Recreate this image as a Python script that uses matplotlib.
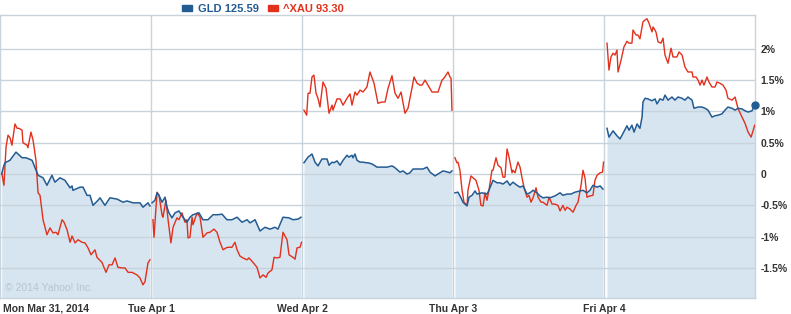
import numpy as np
import matplotlib
matplotlib.use("Agg")
import matplotlib.pyplot as plt
import matplotlib.transforms as mtrans
from matplotlib.patches import Patch

plt.rcParams["font.family"] = ["Liberation Sans", "DejaVu Sans"]

# time axis: trading days since Mon open (1.0 = one session)
days = ["Mon Mar 31, 2014", "Tue Apr 1", "Wed Apr 2", "Thu Apr 3", "Fri Apr 4"]
yticks = [-1.5, -1, -0.5, 0, 0.5, 1, 1.5, 2]
ytick_labels = ["-1.5%", "-1%", "-0.5%", "0", "0.5%", "1%", "1.5%", "2%"]

gld_t = [0.011, 0.026, 0.033, 0.066, 0.106, 0.146, 0.172, 0.212, 0.219, 0.252, 0.285, 0.311,
         0.344, 0.364, 0.397, 0.430, 0.464, 0.477, 0.483, 0.530, 0.550, 0.576, 0.596, 0.616,
         0.649, 0.662, 0.695, 0.728, 0.775, 0.815, 0.841, 0.881, 0.927, 0.947, 0.980, 0.993,
         1.007, 1.026, 1.040, 1.053, 1.073, 1.093, 1.106, 1.119, 1.139, 1.159, 1.185, 1.212,
         1.238, 1.258, 1.278, 1.318, 1.344, 1.377, 1.411, 1.444, 1.470, 1.503, 1.536, 1.570,
         1.603, 1.636, 1.656, 1.689, 1.722, 1.755, 1.788, 1.821, 1.841, 1.874, 1.914, 1.940,
         1.974, 1.993,
         2.013, 2.040, 2.066, 2.086, 2.106, 2.132, 2.166, 2.179, 2.199, 2.212, 2.232, 2.252,
         2.272, 2.298, 2.311, 2.331, 2.338, 2.351, 2.364, 2.384, 2.404, 2.424, 2.437, 2.464,
         2.497, 2.530, 2.563, 2.596, 2.616, 2.649, 2.669, 2.695, 2.715, 2.735, 2.768, 2.801,
         2.828, 2.848, 2.881, 2.914, 2.934, 2.967, 2.980, 2.993,
         3.013, 3.033, 3.053, 3.066, 3.093, 3.106, 3.126, 3.146, 3.159, 3.192, 3.225, 3.238,
         3.265, 3.291, 3.311, 3.331, 3.358, 3.377, 3.397, 3.424, 3.444, 3.464, 3.490, 3.510,
         3.530, 3.556, 3.576, 3.596, 3.623, 3.642, 3.675, 3.709, 3.728, 3.755, 3.781, 3.808,
         3.841, 3.861, 3.887, 3.907, 3.927, 3.954, 3.974, 3.993,
         4.020, 4.033, 4.060, 4.086, 4.106, 4.126, 4.152, 4.166, 4.185, 4.199, 4.219, 4.238,
         4.252, 4.258, 4.272, 4.291, 4.318, 4.338, 4.351, 4.371, 4.391, 4.404, 4.424, 4.450,
         4.470, 4.490, 4.517, 4.536, 4.556, 4.583, 4.596, 4.623, 4.649, 4.669, 4.689, 4.715,
         4.735, 4.755, 4.781, 4.801, 4.821, 4.848, 4.868, 4.887, 4.914, 4.934, 4.954, 4.980,
         4.998]
gld_v = [0.00, 0.14, 0.18, 0.22, 0.35, 0.26, 0.26, 0.22, 0.18, -0.02, -0.06, -0.18,
         -0.02, -0.13, -0.06, -0.10, -0.22, -0.19, -0.26, -0.21, -0.21, -0.34, -0.34, -0.50,
         -0.42, -0.38, -0.50, -0.38, -0.40, -0.45, -0.43, -0.46, -0.46, -0.53, -0.46, -0.51,
         -0.46, -0.42, -0.30, -0.34, -0.45, -0.37, -0.53, -0.62, -0.70, -0.62, -0.59, -0.69,
         -0.77, -0.69, -0.65, -0.62, -0.73, -0.73, -0.65, -0.65, -0.64, -0.73, -0.73, -0.69,
         -0.77, -0.73, -0.78, -0.73, -0.91, -0.85, -0.88, -0.85, -0.88, -0.69, -0.70, -0.73,
         -0.72, -0.69,
         0.18, 0.27, 0.32, 0.19, 0.13, 0.24, 0.24, 0.14, 0.19, 0.18, 0.21, 0.14,
         0.22, 0.30, 0.27, 0.30, 0.26, 0.32, 0.22, 0.19, 0.19, 0.18, 0.18, 0.16,
         0.11, 0.11, 0.11, 0.13, 0.10, 0.03, 0.05, 0.00, 0.02, 0.08, 0.08, 0.08,
         0.11, 0.03, -0.03, 0.02, 0.05, 0.03, 0.02, 0.05,
         -0.30, -0.29, -0.38, -0.45, -0.51, -0.37, -0.34, -0.27, -0.32, -0.30, -0.32, -0.26,
         -0.10, -0.14, -0.14, -0.16, -0.11, -0.18, -0.13, -0.18, -0.21, -0.19, -0.32, -0.30,
         -0.26, -0.30, -0.35, -0.38, -0.37, -0.38, -0.35, -0.30, -0.34, -0.32, -0.32, -0.29,
         -0.27, -0.26, -0.30, -0.26, -0.18, -0.21, -0.19, -0.24,
         0.73, 0.59, 0.69, 0.61, 0.56, 0.65, 0.77, 0.70, 0.78, 0.67, 0.80, 0.73,
         0.91, 1.15, 1.21, 1.20, 1.17, 1.20, 1.12, 1.20, 1.18, 1.26, 1.18, 1.23,
         1.18, 1.23, 1.21, 1.18, 1.23, 1.18, 1.05, 1.07, 1.07, 1.05, 1.02, 0.91,
         0.93, 0.94, 0.96, 1.02, 1.07, 1.05, 1.02, 1.05, 1.04, 1.01, 0.99, 1.01,
         1.10]

xau_t = [0.013, 0.026, 0.040, 0.053, 0.066, 0.079, 0.099, 0.113, 0.126, 0.146, 0.152, 0.179,
         0.185, 0.205, 0.219, 0.238, 0.252, 0.265, 0.285, 0.311, 0.331, 0.351, 0.371, 0.384,
         0.411, 0.424, 0.444, 0.464, 0.477, 0.497, 0.517, 0.543, 0.563, 0.583, 0.603, 0.629,
         0.642, 0.675, 0.702, 0.722, 0.742, 0.762, 0.781, 0.808, 0.828, 0.848, 0.874, 0.907,
         0.927, 0.947, 0.960, 0.980, 0.993,
         1.013, 1.020, 1.040, 1.053, 1.073, 1.079, 1.099, 1.113, 1.132, 1.146, 1.172, 1.185,
         1.205, 1.225, 1.238, 1.245, 1.258, 1.272, 1.278, 1.305, 1.325, 1.344, 1.371, 1.391,
         1.417, 1.437, 1.457, 1.477, 1.497, 1.510, 1.536, 1.556, 1.570, 1.589, 1.609, 1.636,
         1.649, 1.675, 1.702, 1.722, 1.742, 1.762, 1.775, 1.801, 1.815, 1.834, 1.854, 1.874,
         1.901, 1.914, 1.940, 1.954, 1.967, 1.987, 1.997,
         2.013, 2.031, 2.040, 2.053, 2.066, 2.079, 2.093, 2.106, 2.119, 2.139, 2.159, 2.179,
         2.199, 2.205, 2.232, 2.252, 2.272, 2.298, 2.318, 2.331, 2.351, 2.364, 2.384, 2.404,
         2.430, 2.450, 2.477, 2.503, 2.530, 2.550, 2.570, 2.596, 2.616, 2.636, 2.656, 2.682,
         2.702, 2.728, 2.742, 2.762, 2.781, 2.795, 2.815, 2.834, 2.861, 2.881, 2.901, 2.927,
         2.940, 2.967, 2.980, 2.987, 2.993,
         3.013, 3.026, 3.033, 3.046, 3.060, 3.073, 3.093, 3.099, 3.119, 3.132, 3.152, 3.172,
         3.185, 3.199, 3.212, 3.225, 3.238, 3.258, 3.265, 3.285, 3.298, 3.318, 3.331, 3.344,
         3.358, 3.371, 3.391, 3.397, 3.411, 3.430, 3.444, 3.457, 3.470, 3.490, 3.503, 3.517,
         3.530, 3.550, 3.563, 3.583, 3.596, 3.623, 3.636, 3.656, 3.675, 3.695, 3.709, 3.728,
         3.742, 3.755, 3.775, 3.795, 3.815, 3.828, 3.848, 3.861, 3.874, 3.887, 3.907, 3.927,
         3.940, 3.954, 3.974, 3.990, 3.997,
         4.020, 4.033, 4.046, 4.060, 4.073, 4.086, 4.093, 4.113, 4.132, 4.152, 4.166, 4.185,
         4.192, 4.212, 4.225, 4.238, 4.258, 4.272, 4.285, 4.298, 4.318, 4.325, 4.344, 4.358,
         4.377, 4.391, 4.404, 4.424, 4.444, 4.457, 4.483, 4.497, 4.517, 4.536, 4.556, 4.583,
         4.589, 4.609, 4.623, 4.636, 4.649, 4.662, 4.682, 4.695, 4.715, 4.735, 4.748, 4.768,
         4.788, 4.808, 4.821, 4.848, 4.868, 4.887, 4.914, 4.934, 4.954, 4.974, 4.987, 4.998]
xau_v = [0.00, -0.18, 0.43, 0.62, 0.58, 0.46, 0.80, 0.73, 0.73, 0.70, 0.50, 0.46,
         0.42, 0.67, 0.54, 0.22, -0.30, -0.34, -0.73, -0.97, -0.86, -0.94, -0.93, -0.97,
         -0.73, -0.77, -0.89, -1.09, -0.99, -1.10, -1.05, -1.09, -1.10, -1.18, -1.29, -1.21,
         -1.33, -1.41, -1.57, -1.45, -1.45, -1.34, -1.49, -1.50, -1.50, -1.57, -1.57, -1.61,
         -1.66, -1.77, -1.72, -1.42, -1.37,
         -0.73, -1.01, -0.29, -0.34, -0.65, -0.69, -0.42, -0.73, -1.10, -0.85, -0.70, -0.73,
         -0.62, -0.77, -0.73, -1.02, -1.01, -0.69, -0.81, -0.62, -0.69, -1.01, -0.94, -0.93,
         -0.88, -0.93, -1.09, -1.21, -1.18, -1.17, -1.17, -1.09, -1.21, -1.31, -1.34, -1.37,
         -1.34, -1.41, -1.49, -1.66, -1.61, -1.65, -1.58, -1.53, -1.33, -1.34, -1.33, -0.93,
         -1.05, -1.29, -1.33, -1.36, -1.18, -1.17, -1.09,
         1.02, 0.94, 1.29, 1.29, 1.55, 1.58, 1.29, 1.21, 1.07, 1.47, 1.37, 0.97,
         1.10, 1.02, 1.20, 1.20, 1.10, 1.21, 1.28, 1.10, 1.31, 1.26, 1.34, 1.31,
         1.39, 1.63, 1.45, 1.13, 1.15, 1.15, 1.37, 1.57, 1.29, 1.21, 1.31, 0.97,
         1.05, 1.37, 1.55, 1.45, 1.42, 1.42, 1.50, 1.42, 1.31, 1.31, 1.31, 1.50,
         1.53, 1.63, 1.55, 1.53, 1.02,
         0.26, 0.18, 0.19, 0.06, -0.26, -0.45, -0.50, -0.26, -0.03, -0.06, -0.10, -0.26,
         -0.50, -0.51, -0.30, -0.42, -0.26, 0.06, 0.06, 0.26, 0.14, 0.10, -0.05, -0.05,
         0.40, 0.27, 0.02, 0.06, 0.02, 0.19, 0.11, -0.06, -0.21, -0.37, -0.34, -0.45,
         -0.38, -0.22, -0.37, -0.45, -0.45, -0.50, -0.37, -0.48, -0.48, -0.50, -0.59, -0.50,
         -0.58, -0.53, -0.56, -0.61, -0.50, -0.45, -0.18, 0.06, -0.06, -0.37, -0.35, -0.34,
         -0.10, -0.02, 0.02, 0.03, 0.19,
         2.09, 1.66, 1.87, 1.93, 1.90, 1.98, 1.63, 1.82, 2.03, 2.12, 2.09, 2.09,
         2.30, 2.22, 2.22, 2.16, 2.43, 2.46, 2.48, 2.41, 2.27, 2.35, 2.27, 2.11,
         2.09, 2.17, 1.90, 1.77, 2.01, 1.87, 1.87, 1.95, 1.90, 1.71, 1.63, 1.63,
         1.55, 1.55, 1.50, 1.42, 1.50, 1.42, 1.55, 1.47, 1.39, 1.39, 1.47, 1.45,
         1.42, 1.34, 1.21, 1.18, 1.23, 1.05, 0.91, 0.81, 0.67, 0.59, 0.69, 0.78]

blue = "#235b93"
red = "#e2301c"
fill_c = "#d6e5f0"
grid_c = "#c8d3dc"
ymin, ymax = -1.98, 2.54

fig = plt.figure(figsize=(7.91, 3.14), dpi=100)
ax = fig.add_axes([0, 16 / 314, 755 / 791, 283 / 314])

gt, gv = np.array(gld_t), np.array(gld_v)
xt, xv = np.array(xau_t), np.array(xau_v)

for d in range(5):
    m = np.floor(gt) == d
    ax.fill_between(gt[m], gv[m], ymin, color=fill_c, lw=0, zorder=1)
    ax.plot(gt[m], gv[m], color=blue, lw=1.1, zorder=4)
    m = np.floor(xt) == d
    ax.plot(xt[m], xv[m], color=red, lw=1.0, zorder=3)

ax.plot(gt[-1], gv[-1], "o", color=blue, ms=5, zorder=5, clip_on=False)

for y in yticks:
    ax.axhline(y, color=grid_c, lw=1, zorder=2)
for d in range(1, 5):
    ax.axvline(d, color=grid_c, lw=1, zorder=0.5)

ax.set_xlim(0, 5)
ax.set_ylim(ymin, ymax)

ax.yaxis.tick_right()
ax.set_yticks(yticks)
ax.set_yticklabels(ytick_labels)
ax.tick_params(axis="y", length=0, pad=4, labelsize=7.5, labelcolor="#333333")
ax.set_xticks(range(5))
ax.set_xticklabels(days)
ax.tick_params(axis="x", length=0, pad=4, labelsize=7.5, labelcolor="#333333")
for lab in ax.get_xticklabels() + ax.get_yticklabels():
    lab.set_fontweight("bold")
first = ax.get_xticklabels()[0]
first.set_horizontalalignment("left")
first.set_transform(first.get_transform() +
                    mtrans.ScaledTranslation(3 / 100, 0, fig.dpi_scale_trans))

for s in ["left", "right", "top", "bottom"]:
    ax.spines[s].set_color(grid_c)
    ax.spines[s].set_linewidth(1)

ax.text(0.006, 0.025, "\u00a9 2014 Yahoo! Inc.", transform=ax.transAxes,
        fontsize=7.5, color="#b8c4ce", zorder=6)

handles = [Patch(color=blue), Patch(color=red)]
leg = fig.legend(handles, ["GLD 125.59", "^XAU 93.30"], loc="center",
                 bbox_to_anchor=(263 / 791, 1 - 9 / 314), ncol=2, frameon=False,
                 handlelength=0.9, handleheight=0.45, handletextpad=0.5,
                 columnspacing=0.8, prop={"weight": "bold", "size": 8})
for txt, c in zip(leg.get_texts(), [blue, red]):
    txt.set_color(c)

fig.savefig("out.png", dpi=100, facecolor="white")
